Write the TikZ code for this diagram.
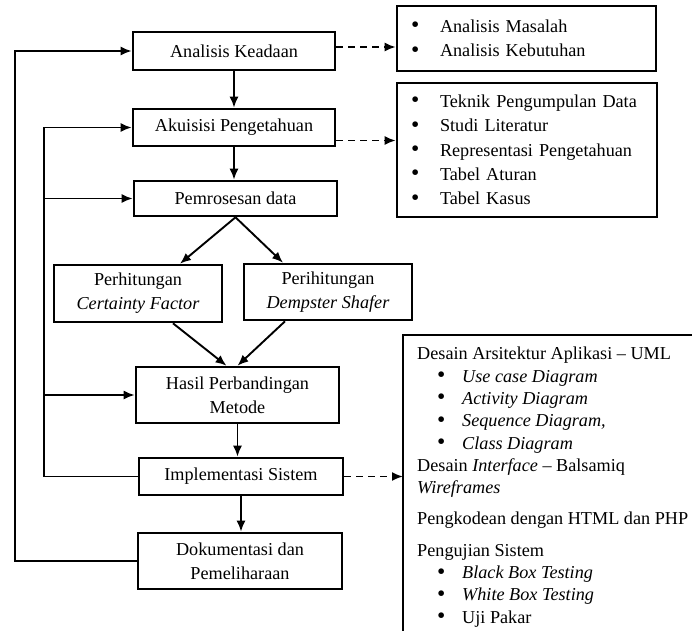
\documentclass[tikz,border=0pt]{standalone}
\usepackage{fontspec}
\setmainfont{Liberation Serif}
\usetikzlibrary{arrows.meta}
\newcommand{\blt}{\raisebox{-0.5pt}{\scalebox{1.3}{\textbullet}}}

\begin{document}
\begin{tikzpicture}[x=1pt,y=-1pt,
    box/.style={draw, line width=2.6pt, align=center, inner sep=2pt, font=\fontsize{18.2}{24}\selectfont},
    listbox/.style={draw, line width=2.6pt, align=left, inner xsep=13pt, font=\fontsize{18.2}{24.3}\selectfont},
    arr/.style={line width=1.9pt, -{Latex[length=11pt,width=9pt]}},
    dasharr/.style={arr, dash pattern=on 7pt off 5pt}]
            \useasboundingbox (0,0) rectangle (692,630);
            \clip (0,0) rectangle (692,630);

            \node [box, minimum width=202pt, minimum height=38pt] (ak) at (234,51) {Analisis Keadaan};
            \node [box, minimum width=202pt, minimum height=37pt] (ap) at (234,127.5) {Akuisisi Pengetahuan};
            \node [box, minimum width=203pt, minimum height=35pt] (pd) at (235.5,198.5) {Pemrosesan data};
            \node [box, minimum width=168pt, minimum height=57pt] (cf) at (138,293.5) {Perhitungan\\\textit{Certainty Factor}};
            \node [box, minimum width=168pt, minimum height=56pt] (ds) at (328,292) {Perihitungan\\\textit{Dempster Shafer}};
            \node [box, minimum width=203pt, minimum height=56pt] (hp) at (237.5,395) {Hasil Perbandingan\\Metode};
            \node [box, minimum width=204pt, minimum height=37pt] (is) at (241,476.5) {Implementasi Sistem};
            \node [box, minimum width=204pt, minimum height=56pt] (dk) at (240,561) {Dokumentasi dan\\Pemeliharaan};

            \node [listbox, minimum width=259pt, minimum height=65pt, text width=231pt] (lb1) at (526.5,38.5)
                {\makebox[29pt][l]{\blt}Analisis Masalah\\
                 \makebox[29pt][l]{\blt}Analisis Kebutuhan};
            \node [listbox, minimum width=260pt, minimum height=134pt, text width=232pt] (lb2) at (527,150)
                {\makebox[29pt][l]{\blt}Teknik Pengumpulan Data\\
                 \makebox[29pt][l]{\blt}Studi Literatur\\
                 \makebox[29pt][l]{\blt}Representasi Pengetahuan\\
                 \makebox[29pt][l]{\blt}Tabel Aturan\\
                 \makebox[29pt][l]{\blt}Tabel Kasus};

            \coordinate (bb) at (403,335);
            \draw [line width=2.6pt] (700,335) -- (bb) -- (403,640);
            \node [anchor=north west, align=left, inner xsep=14pt, inner ysep=12pt, font=\fontsize{18.2}{22.3}\selectfont] (uml) at (bb)
                {Desain Arsitektur Aplikasi -- UML\\
                 \hspace*{20pt}\makebox[25pt][l]{\blt}\textit{Use case Diagram}\\
                 \hspace*{20pt}\makebox[25pt][l]{\blt}\textit{Activity Diagram}\\
                 \hspace*{20pt}\makebox[25pt][l]{\blt}\textit{Sequence Diagram,}\\
                 \hspace*{20pt}\makebox[25pt][l]{\blt}\textit{Class Diagram}\\
                 Desain \textit{Interface} -- Balsamiq\\
                 \textit{Wireframes}\\[9pt]
                 Pengkodean dengan HTML dan PHP\\[9pt]
                 Pengujian Sistem\\
                 \hspace*{20pt}\makebox[25pt][l]{\blt}\textit{Black Box Testing}\\
                 \hspace*{20pt}\makebox[25pt][l]{\blt}\textit{White Box Testing}\\
                 \hspace*{20pt}\makebox[25pt][l]{\blt}Uji Pakar};

            \draw [arr] (ak.south) -- (ak.south |- ap.north);
            \draw [arr] (ap.south) -- (ap.south |- pd.north);
            \draw [arr] (pd.south) -- ([xshift=42pt]cf.north);
            \draw [arr] (pd.south) -- ([xshift=-45pt]ds.north);
            \draw [arr] ([xshift=35pt]cf.south) -- ([xshift=-11pt]hp.north);
            \draw [arr] ([xshift=-43pt]ds.south) -- (hp.north);
            \draw [arr] (hp.south) -- (hp.south |- is.north);
            \draw [arr] (is.south) -- (is.south |- dk.north);

            \coordinate (lo) at (15,0);
            \coordinate (li) at (44,0);
            \draw [arr, {Latex[length=11pt,width=9pt]}-] (ak.west) -- (ak.west -| lo) -- (dk.west -| lo) -- (dk.west);
            \draw [arr, {Latex[length=11pt,width=9pt]}-] (ap.west) -- (ap.west -| li) -- (is.west -| li) -- (is.west);
            \draw [arr] (pd.west -| li) -- (pd.west);
            \draw [arr] (hp.west -| li) -- (hp.west);

            \draw [dasharr] ([yshift=4pt]ak.east) -- ([yshift=4pt]ak.east -| lb1.west);
            \draw [dasharr] ([yshift=-13pt]ap.east) -- ([yshift=-13pt]ap.east -| lb2.west);
            \draw [dasharr] (is.east) -- (is.east -| bb);
        \end{tikzpicture}
\end{document}
